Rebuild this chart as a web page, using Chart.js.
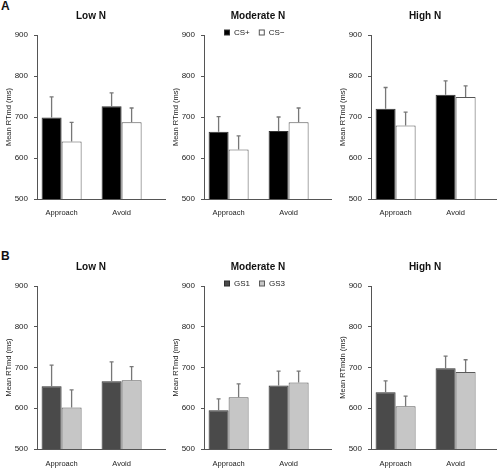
<!DOCTYPE html>
<html><head><meta charset="utf-8">
<script src="https://cdn.jsdelivr.net/npm/chart.js@4.4.0/dist/chart.umd.min.js"></script>
<style>
body{margin:0;background:#fff;}
#wrap{position:relative;width:500px;height:469px;overflow:hidden;background:#fff;font-family:"Liberation Sans",Arial,Helvetica,sans-serif;}
canvas{position:absolute;}
.lbl{position:absolute;font-weight:bold;font-size:12px;color:#111;line-height:12px;}
</style></head>
<body><div id="wrap">
<div class="lbl" style="left:1px;top:0px;">A</div>
<div class="lbl" style="left:1px;top:250px;">B</div>
</div>
<script>
// ---- data ----
const categories = ['Approach', 'Avoid'];
const panelTitles = ['Low N', 'Moderate N', 'High N'];
const seriesNamesA = ['CS+', 'CS\u2212'];
const seriesNamesB = ['GS1', 'GS3'];
const yTickValues = [500, 600, 700, 800, 900];
const yTitlesA = ['Mean RTmd (ms)', 'Mean RTmd (ms)', 'Mean RTmd (ms)'];
const yTitlesB = ['Mean RTmd (ms)', 'Mean RTmd (ms)', 'Mean RTmdn (ms)'];

// Panel A (CS+ / CS-)
const aLowCSplus = [699, 726],  aLowCSplusErr = [50, 33];
const aLowCSminus = [640, 687], aLowCSminusErr = [47, 35];
const aModCSplus = [664, 666],  aModCSplusErr = [37, 34];
const aModCSminus = [621, 687], aModCSminusErr = [33, 35];
const aHighCSplus = [720, 754], aHighCSplusErr = [52, 34];
const aHighCSminus = [679, 749],aHighCSminusErr = [33, 27];
// Panel B (GS1 / GS3)
const bLowGS1 = [654, 666],  bLowGS1Err = [52, 48];
const bLowGS3 = [602, 669],  bLowGS3Err = [43, 33];
const bModGS1 = [595, 656],  bModGS1Err = [28, 35];
const bModGS3 = [627, 663],  bModGS3Err = [33, 28];
const bHighGS1 = [639, 698], bHighGS1Err = [28, 30];
const bHighGS3 = [605, 689], bHighGS3Err = [25, 30];

// ---- layout / style ----
const FONT = '"Liberation Sans", Arial, Helvetica, sans-serif';
const colAxisX = [37, 204, 371];
const colEndX = [165, 331, 496];
const rows = [
  {top: 0, height: 235, chartTop: 35, chartBottom: 199, titleY: 16, tickPad: 9},
  {top: 235, height: 234, chartTop: 51, chartBottom: 214, titleY: 32, tickPad: 10}
];
const stylesA = [
  {bg: '#000000', border: '#333333'},
  {bg: '#ffffff', border: '#555555'}
];
const stylesB = [
  {bg: '#4a4a4a', border: '#2e2e2e'},
  {bg: '#c6c6c6', border: '#5a5a5a'}
];
const Y_W = 37;

const errorBarPlugin = {
  id: 'errbars',
  afterDatasetsDraw(chart, args, opts) {
    const ctx = chart.ctx, y = chart.scales.y;
    ctx.save();
    ctx.strokeStyle = '#777';
    ctx.lineWidth = 1.3;
    chart.data.datasets.forEach((ds, di) => {
      const meta = chart.getDatasetMeta(di);
      meta.data.forEach((el, i) => {
        const v = ds.data[i].y, e = ds.errors[i];
        const x = el.x;
        const y0 = y.getPixelForValue(v), y1 = y.getPixelForValue(v + e);
        ctx.beginPath();
        ctx.moveTo(x, y0); ctx.lineTo(x, y1);
        ctx.moveTo(x - 2, y1); ctx.lineTo(x + 2, y1);
        ctx.stroke();
      });
    });
    ctx.restore();
  }
};

const decorPlugin = {
  id: 'decor',
  afterDraw(chart, args, opts) {
    const ctx = chart.ctx, area = chart.chartArea;
    ctx.save();
    ctx.fillStyle = '#111';
    ctx.font = 'bold 10px ' + FONT;
    ctx.textAlign = 'center';
    ctx.textBaseline = 'middle';
    ctx.fillText(opts.title, area.left + 54, opts.titleY);
    if (opts.legend) {
      ctx.font = '8px ' + FONT;
      ctx.textAlign = 'left';
      let x = area.left + 20;
      const yc = area.top - 2.5;
      chart.data.datasets.forEach(ds => {
        ctx.fillStyle = ds.backgroundColor;
        ctx.strokeStyle = ds.borderColor;
        ctx.lineWidth = 1;
        ctx.fillRect(x + 0.5, yc - 2.5, 5, 5);
        ctx.strokeRect(x + 0.5, yc - 2.5, 5, 5);
        ctx.fillStyle = '#222';
        ctx.fillText(ds.label, x + 10, yc + 0.5);
        x += 10 + ctx.measureText(ds.label).width + 9;
      });
    }
    ctx.restore();
  }
};

function makePanel(rowIdx, colIdx, names, styles, values, errs, yTitle) {
  const row = rows[rowIdx];
  const left = colAxisX[colIdx] - Y_W;
  const width = colEndX[colIdx] - left + 2;
  const cv = document.createElement('canvas');
  cv.width = width; cv.height = row.height;
  cv.style.left = left + 'px'; cv.style.top = row.top + 'px';
  cv.style.width = width + 'px'; cv.style.height = row.height + 'px';
  document.getElementById('wrap').appendChild(cv);
  const pxPerUnit = 60;
  const xmin = -0.41;
  const xmax = (colEndX[colIdx] - colAxisX[colIdx]) / pxPerUnit + xmin;
  const datasets = names.map((n, si) => ({
    label: n,
    data: values[si].map((v, i) => ({x: i, y: v})),
    errors: errs[si],
    backgroundColor: styles[si].bg,
    borderColor: styles[si].border,
    borderWidth: 1,
    categoryPercentage: 0.667,
    barPercentage: 1.0
  }));
  new Chart(cv, {
    type: 'bar',
    data: {datasets},
    plugins: [errorBarPlugin, decorPlugin],
    options: {
      responsive: false, animation: false, devicePixelRatio: 1,
      layout: {padding: {top: row.chartTop, right: 2, bottom: 0, left: 0}},
      plugins: {
        legend: {display: false}, tooltip: {enabled: false}, title: {display: false},
        decor: {title: panelTitles[colIdx], titleY: row.titleY, legend: colIdx === 1}
      },
      scales: {
        x: {
          type: 'linear', min: xmin, max: xmax, offset: false,
          afterBuildTicks: s => { s.ticks = categories.map((c, i) => ({value: i})); },
          afterFit: s => { s.height = row.height - row.chartBottom; },
          grid: {display: true, drawOnChartArea: false, drawTicks: false},
          border: {display: true, color: '#555', width: 1},
          ticks: {padding: row.tickPad, maxRotation: 0, autoSkip: false, color: '#222',
                  font: {family: FONT, size: 7.5}, callback: v => categories[v]}
        },
        y: {
          type: 'linear', min: 500, max: 900,
          afterBuildTicks: s => { s.ticks = yTickValues.map(v => ({value: v})); },
          afterFit: s => { s.width = Y_W; },
          grid: {display: true, drawOnChartArea: false, drawTicks: true, tickLength: 3, color: '#555'},
          border: {display: true, color: '#555', width: 1},
          ticks: {padding: 6, color: '#222', font: {family: FONT, size: 8}},
          title: {display: true, text: yTitle, color: '#222', font: {family: FONT, size: 7.5}, padding: {top: 4, bottom: 0}}
        }
      }
    }
  });
}

makePanel(0, 0, seriesNamesA, stylesA, [aLowCSplus, aLowCSminus], [aLowCSplusErr, aLowCSminusErr], yTitlesA[0]);
makePanel(0, 1, seriesNamesA, stylesA, [aModCSplus, aModCSminus], [aModCSplusErr, aModCSminusErr], yTitlesA[1]);
makePanel(0, 2, seriesNamesA, stylesA, [aHighCSplus, aHighCSminus], [aHighCSplusErr, aHighCSminusErr], yTitlesA[2]);
makePanel(1, 0, seriesNamesB, stylesB, [bLowGS1, bLowGS3], [bLowGS1Err, bLowGS3Err], yTitlesB[0]);
makePanel(1, 1, seriesNamesB, stylesB, [bModGS1, bModGS3], [bModGS1Err, bModGS3Err], yTitlesB[1]);
makePanel(1, 2, seriesNamesB, stylesB, [bHighGS1, bHighGS3], [bHighGS1Err, bHighGS3Err], yTitlesB[2]);
</script>
</body></html>
